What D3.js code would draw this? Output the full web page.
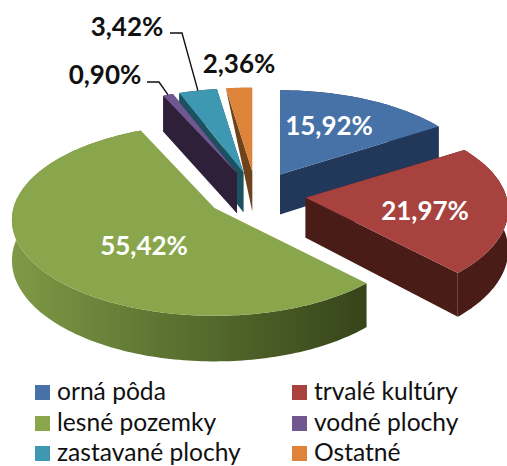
<!DOCTYPE html>
<html><head><meta charset="utf-8">
<script src="https://cdn.jsdelivr.net/npm/d3@7"></script>
<style>html,body{margin:0;padding:0;background:#fff}svg{display:block}text{font-family:Lato,"Open Sans",sans-serif}</style>
</head><body><svg id="c" width="507" height="466"></svg>
<script>
const categories = ["orná pôda","trvalé kultúry","lesné pozemky","vodné plochy","zastavané plochy","Ostatné"];
const values = [15.92,21.97,55.42,0.90,3.42,2.36];
const valueLabels = ["15,92%","21,97%","55,42%","0,90%","3,42%","2,36%"];
const topColors = ["#4672a8","#a7423f","#8aa64c","#71578f","#3f98b1","#dd843a"];
const sideColors = ["#22385a","#491c17","#3a4a1c","#2f2039","#1c5260","#6e421b"];

// layout
const W=507,H=466, cx=256, cy=195, R=201, tilt=0.47, persp=0.123, explode=50, depth=40;
const labelPos = [[329,126,"#fff"],[425,211,"#fff"],[144,246,"#fff"],[105,75,"#111"],[127,27,"#111"],[239,64,"#111"]];
const leaders = {3:[[147,82],[159,82]],4:[[170,33],[182,33]]};
const legendCols=[35,292], legendRows=[385,416,446];
const drawOrder=[5,4,3,0,2,1];

const svg=d3.select("#c");
const defs=svg.append("defs");
const g=defs.append("linearGradient").attr("id","rim").attr("gradientUnits","userSpaceOnUse")
  .attr("x1",10).attr("x2",360).attr("y1",0).attr("y2",0);
g.append("stop").attr("offset",0).attr("stop-color","#7f9a47");
g.append("stop").attr("offset",0.45).attr("stop-color","#5c7331");
g.append("stop").attr("offset",1).attr("stop-color","#37461a");

const arcs=d3.pie().sort(null).value(d=>d).startAngle(0).endAngle(2*Math.PI)(values);
const sc=v=>1/(1-persp*v);
function apex(a){const m=(a.startAngle+a.endAngle)/2;
  return [cx+explode*Math.sin(m), cy-explode*Math.cos(m)*tilt];}
function pt(a,th,dz=0){const o=apex(a),u=Math.sin(th),v=-Math.cos(th),s=sc(v);
  return [o[0]+R*u*s, o[1]+R*tilt*v*s+dz*s];}
function arcPts(a,dz=0){const n=Math.max(2,Math.ceil((a.endAngle-a.startAngle)/0.02));
  return d3.range(n+1).map(i=>pt(a,a.startAngle+(a.endAngle-a.startAngle)*i/n,dz));}
const line=d3.line().curve(d3.curveLinearClosed);

drawOrder.forEach(i=>{
  const a=arcs[i],o=apex(a),ob=[o[0],o[1]+depth];
  const grp=svg.append("g");
  const side=i===2?"url(#rim)":sideColors[i];
  if(i===5){
    grp.append("path").attr("d",line([pt(a,a.startAngle),o,ob])).attr("fill",side);
  }else{
    grp.append("path").attr("d",line([...arcPts(a),...arcPts(a,depth).reverse()])).attr("fill",side);
    if(i!==2){
      grp.append("path").attr("d",line([o,pt(a,a.startAngle),pt(a,a.startAngle,depth),ob])).attr("fill",sideColors[i]);
      grp.append("path").attr("d",line([o,pt(a,a.endAngle),pt(a,a.endAngle,depth),ob])).attr("fill",sideColors[i]);
    }
  }
  grp.append("path").attr("d",line([o,...arcPts(a)])).attr("fill",topColors[i]);
});

Object.keys(leaders).forEach(k=>{
  const a=arcs[k],end=pt(a,(a.startAngle+a.endAngle)/2);
  svg.append("path").attr("d",d3.line()([...leaders[k],end])).attr("fill","none").attr("stroke","#111").attr("stroke-width",1.4);
});

valueLabels.forEach((t,i)=>{
  svg.append("text").attr("x",labelPos[i][0]).attr("y",labelPos[i][1]).attr("dy","0.36em")
   .attr("text-anchor","middle").attr("font-size",26).attr("font-weight",700)
   .attr("fill",labelPos[i][2]).text(t);
});

categories.forEach((t,i)=>{
  const x=legendCols[i%2],y=legendRows[Math.floor(i/2)];
  svg.append("rect").attr("x",x).attr("y",y).attr("width",15).attr("height",15).attr("fill",topColors[i]);
  svg.append("text").attr("x",x+22).attr("y",y+15).attr("font-size",24.6).attr("fill","#111").text(t);
});
</script></body></html>
